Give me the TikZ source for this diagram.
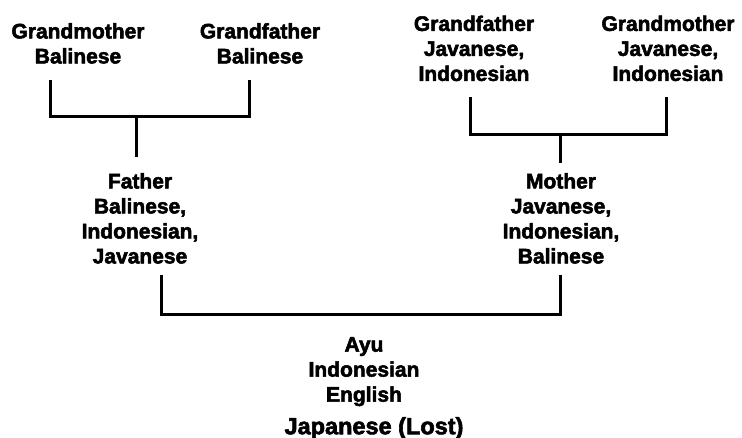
\documentclass[tikz,border=0pt]{standalone}
\usepackage{fontspec}
\setmainfont{Liberation Sans}[BoldFeatures={FakeBold=2.5}]
\begin{document}
\begin{tikzpicture}[x=1pt,y=-1pt,
  person/.style={anchor=north,inner sep=0pt,align=center,
    font=\fontsize{21}{25}\selectfont\bfseries},
  lostlang/.style={anchor=north,inner sep=0pt,
    font=\fontsize{23.5}{25}\selectfont\bfseries},
  link/.style={line width=3pt,draw=black}]
\useasboundingbox (0,0) rectangle (742,438);
% people
\node[person] (gmb) at (78,23) {Grandmother\\Balinese};
\node[person] (gfb) at (260,23) {Grandfather\\Balinese};
\node[person] (gfj) at (474,15.5) {Grandfather\\Javanese,\\Indonesian};
\node[person] (gmj) at (668,15.5) {Grandmother\\Javanese,\\Indonesian};
\node[person] (father) at (140,173) {Father\\Balinese,\\Indonesian,\\Javanese};
\node[person] (mother) at (561,173) {Mother\\Javanese,\\Indonesian,\\Balinese};
\node[person] (ayu) at (364,337) {Ayu\\Indonesian\\English};
\node[lostlang] (lost) at (374,417) {Japanese (Lost)};
% bracket coordinates
\coordinate (l1) at (50,80);
\coordinate (l2) at (249,80);
\coordinate (lbar) at (136,117);
\coordinate (lstem) at (136,157);
\coordinate (r1) at (470,97);
\coordinate (r2) at (666,97);
\coordinate (rbar) at (560,135);
\coordinate (rstem) at (560,163);
\coordinate (b1) at (161,275);
\coordinate (b2) at (560,275);
\coordinate (bbar) at (360,315);
% connectors
\draw[link] (l1) |- (lbar) -| (l2);
\draw[link] (lbar) -- (lstem);
\draw[link] (r1) |- (rbar) -| (r2);
\draw[link] (rbar) -- (rstem);
\draw[link] (b1) |- (bbar) -| (b2);
\end{tikzpicture}
\end{document}
